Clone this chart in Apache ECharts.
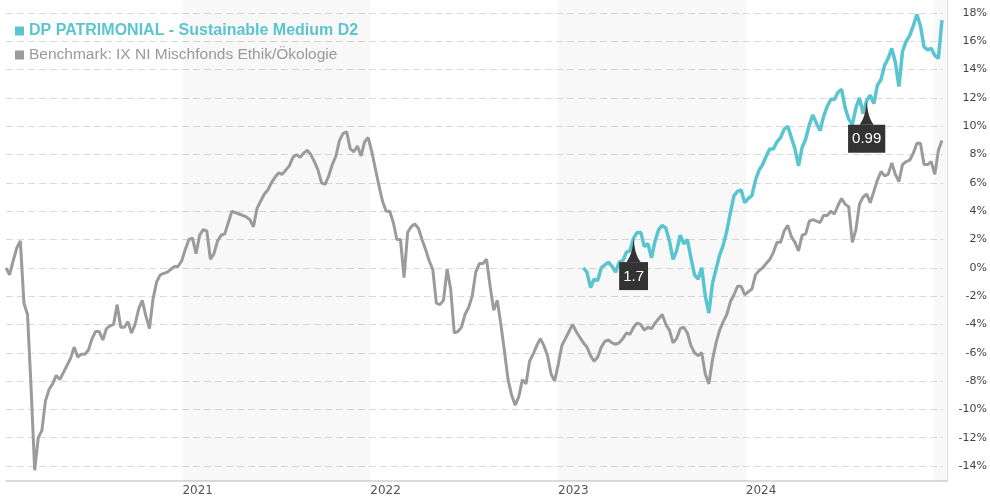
<!DOCTYPE html>
<html>
<head>
<meta charset="utf-8">
<script src="https://cdn.jsdelivr.net/npm/echarts@6/dist/echarts.min.js"></script>
<style>
  html, body { margin: 0; padding: 0; background: #fff; }
  #chart { width: 990px; height: 500px; }
</style>
</head>
<body>
<div id="chart"></div>
<script>
// weekly closes, % since start
const fundName = 'DP PATRIMONIAL - Sustainable Medium D2'
const benchName = 'Benchmark: IX NI Mischfonds Ethik/Ökologie'

const benchStart = '2020-01-24'
const benchValues = [
  0, -0.5, 0.5, 1.4, 1.9, -2.5, -3.3, -8.5, -14.3, -12.0,
  -11.5, -9.4, -8.6, -8.2, -7.6, -7.9, -7.4, -6.9, -6.4, -5.6,
  -6.3, -6.1, -6.1, -5.8, -5.0, -4.5, -4.5, -5.1, -4.3, -4.1,
  -4.0, -2.6, -4.2, -4.2, -3.8, -4.6, -4.0, -2.9, -2.3, -3.4,
  -4.3, -2.2, -1.0, -0.5, -0.4, -0.3, -0.1, 0.1, 0.1, 0.5,
  1.3, 2.0, 2.1, 1.0, 2.3, 2.7, 2.6, 0.6, 1.0, 1.9,
  2.3, 2.4, 3.2, 4.0, 3.9, 3.8, 3.7, 3.6, 3.4, 2.9,
  4.2, 4.7, 5.2, 5.5, 6.0, 6.4, 6.7, 6.6, 6.9, 7.2,
  7.8, 8.0, 7.8, 8.1, 8.3, 8.0, 7.5, 6.9, 6.0, 5.9,
  6.5, 7.3, 7.9, 9.0, 9.5, 9.6, 8.4, 8.2, 8.6, 7.9,
  8.9, 9.2, 8.2, 7.0, 5.8, 4.7, 4.0, 4.0, 3.2, 2.0,
  2.0, -0.7, 2.5, 2.9, 3.1, 2.8, 2.0, 1.3, 0.5, -0.1,
  -2.5, -2.6, -2.3, -0.1, -1.5, -4.6, -4.5, -4.2, -3.3, -2.8,
  -2.0, -0.3, 0.3, 0.3, 0.6, -1.3, -3.0, -2.3, -4.0, -5.9,
  -7.9, -9.0, -9.7, -9.1, -7.9, -8.2, -6.6, -6.1, -5.5, -5.0,
  -5.5, -6.2, -7.5, -8.0, -6.8, -5.5, -5.0, -4.5, -4.0, -4.5,
  -4.9, -5.3, -5.6, -6.2, -6.6, -6.3, -5.6, -5.2, -5.1, -5.3,
  -5.4, -5.3, -5.0, -4.6, -4.7, -4.2, -3.9, -4.0, -4.4, -4.2,
  -4.3, -3.9, -3.6, -3.3, -4.0, -4.4, -5.3, -5.0, -4.3, -4.2,
  -4.6, -5.5, -6.0, -6.2, -6.0, -7.5, -8.2, -6.5, -5.3, -4.4,
  -3.8, -3.3, -2.4, -1.9, -1.3, -1.3, -1.9, -1.7, -1.5, -0.5,
  -0.2, 0.0, 0.3, 0.6, 1.1, 1.8, 1.8, 2.6, 3.0, 2.2,
  1.8, 1.2, 2.3, 2.4, 3.3, 3.4, 3.3, 3.2, 3.7, 3.7,
  4.0, 3.8, 4.4, 4.9, 4.5, 4.3, 1.8, 2.7, 4.5, 5.0,
  5.2, 4.6, 5.4, 6.2, 6.8, 6.5, 6.6, 7.4, 6.6, 6.1,
  7.3, 7.5, 7.6, 8.1, 8.8, 8.8, 7.3, 7.3, 7.5, 6.6,
  8.3, 9.0
]

const fundStart = '2023-02-24'
const fundValues = [
  0.0, -0.3, -1.4, -0.8, -0.9, 0.0, 0.2, 0.4, 0.1, -0.3,
  0.4, 0.5, 1.1, 1.2, 2.1, 2.5, 2.5, 1.5, 1.7, 0.7,
  1.9, 2.7, 3.0, 2.8, 1.9, 0.6, 1.2, 2.3, 1.7, 2.0,
  0.7, -0.5, -0.8, 0.0, -2.0, -3.2, -1.1, -0.1, 0.9, 1.6,
  2.6, 3.9, 5.1, 5.4, 5.5, 4.6, 4.9, 5.1, 6.2, 6.9,
  7.3, 7.9, 8.4, 8.4, 8.9, 9.2, 9.8, 10.0, 9.2, 8.4,
  7.2, 8.5, 9.1, 10.1, 10.8, 10.2, 9.7, 10.7, 11.4, 11.9,
  11.9, 12.4, 12.6, 11.3, 10.5, 10.1, 11.3, 12.0, 10.9, 11.8,
  12.2, 11.6, 12.9, 13.3, 14.3, 14.8, 15.5, 14.5, 12.8, 15.3,
  16.0, 16.4, 17.1, 17.9, 17.1, 15.6, 15.4, 15.5, 15.0, 14.8, 17.5
]

// distributions
const divDates = ['2023-06-02', '2024-08-30']
const divLabels = ['1.7', '0.99']

// shaded years
const bandStarts = ['2021-01-01', '2023-01-01', '2025-01-01']
const bandEnds = ['2022-01-01', '2024-01-01', '2025-01-26']

const yearLabels = ['2021', '2022', '2023', '2024']

const axisMin = '2020-01-24'
const axisMax = '2025-01-26'

const WEEK = 7 * 24 * 3600 * 1000
const ts = s => new Date(s + 'T00:00:00').getTime()

function weekly(start, values) {
  const t0 = ts(start)
  return values.map((v, i) => [t0 + i * WEEK, v])
}

function fundAt(d) {
  const i = Math.round((ts(d) - ts(fundStart)) / WEEK)
  return fundValues[i]
}

const chart = echarts.init(document.getElementById('chart'))

const option = {
  animation: false,
  backgroundColor: '#fff',
  legend: {
    orient: 'vertical',
    left: 10,
    top: 18,
    icon: 'rect',
    itemWidth: 9,
    itemHeight: 9,
    itemGap: 8,
    selectedMode: false,
    textStyle: { fontFamily: 'Liberation Sans, Arial', lineHeight: 16 },
    data: [
      { name: fundName, textStyle: { color: '#5bc5cf', fontWeight: 'bold', fontSize: 16 } },
      { name: benchName, textStyle: { color: '#999', fontSize: 15.5 } }
    ]
  },
  grid: [
    { left: 6, right: 43, top: 13, bottom: 34 },
    { left: 6, right: 43, top: 0, bottom: 19 } // frame + year bands
  ],
  xAxis: [
    { type: 'time', gridIndex: 0, min: axisMin, max: axisMax, show: false },
    {
      type: 'time',
      gridIndex: 1,
      min: axisMin,
      max: axisMax,
      minInterval: 365 * 864e5,
      maxInterval: 366 * 864e5,
      axisLine: { onZero: false, lineStyle: { color: '#dcdcdc', width: 2 } },
      axisTick: { show: false },
      splitLine: { show: false },
      axisLabel: {
        formatter: function (value) {
          const y = String(new Date(value).getFullYear())
          return yearLabels.indexOf(y) > -1 ? y : ''
        },
        align: 'left',
        color: '#555',
        fontFamily: 'DejaVu Sans',
        fontSize: 12,
        margin: 4,
        showMinLabel: false,
        showMaxLabel: false
      }
    }
  ],
  yAxis: [
    {
      type: 'value',
      gridIndex: 0,
      position: 'right',
      min: -14,
      max: 18,
      interval: 2,
      axisLine: { show: false },
      axisTick: { show: false },
      splitLine: { lineStyle: { color: '#dadada', type: [7, 4] } },
      axisLabel: {
        formatter: '{value}%',
        align: 'right',
        margin: 44,
        color: '#444',
        fontFamily: 'DejaVu Sans',
        fontSize: 11
      }
    },
    {
      type: 'value',
      gridIndex: 1,
      position: 'right',
      min: 0,
      max: 1,
      axisLine: { show: true, lineStyle: { color: '#dcdcdc', width: 1 } },
      axisTick: { show: false },
      axisLabel: { show: false },
      splitLine: { show: false }
    }
  ],
  series: [
    {
      type: 'line',
      xAxisIndex: 1,
      yAxisIndex: 1,
      data: [],
      silent: true,
      markArea: {
        silent: true,
        itemStyle: { color: 'rgba(0,0,0,0.028)' },
        data: bandStarts.map((b, k) => [{ xAxis: b }, { xAxis: bandEnds[k] }])
      }
    },
    {
      name: benchName,
      type: 'line',
      data: weekly(benchStart, benchValues),
      showSymbol: false,
      clip: false,
      itemStyle: { color: '#9b9b9b' },
      lineStyle: { color: '#9b9b9b', width: 3 }
    },
    {
      name: fundName,
      type: 'line',
      data: weekly(fundStart, fundValues),
      showSymbol: false,
      clip: false,
      itemStyle: { color: '#5bc5cf' },
      lineStyle: { color: '#5bc5cf', width: 3.5 },
      markPoint: {
        symbol: 'path://M7 0 C8 10 9 17 14 24 L0 24 C5 17 6 10 7 0 Z',
        symbolSize: [14, 24],
        symbolOffset: [0, '50%'],
        itemStyle: { color: '#333' },
        label: {
          show: true,
          position: 'bottom',
          distance: 0,
          formatter: '{b}',
          color: '#fff',
          backgroundColor: '#333',
          padding: [6, 4, 5, 4],
          fontSize: 15,
          lineHeight: 17,
          fontFamily: 'Liberation Sans, Arial'
        },
        data: divDates.map((d, k) => ({ name: divLabels[k], coord: [ts(d), fundAt(d)] }))
      }
    }
  ]
}

chart.setOption(option)
</script>
</body>
</html>
